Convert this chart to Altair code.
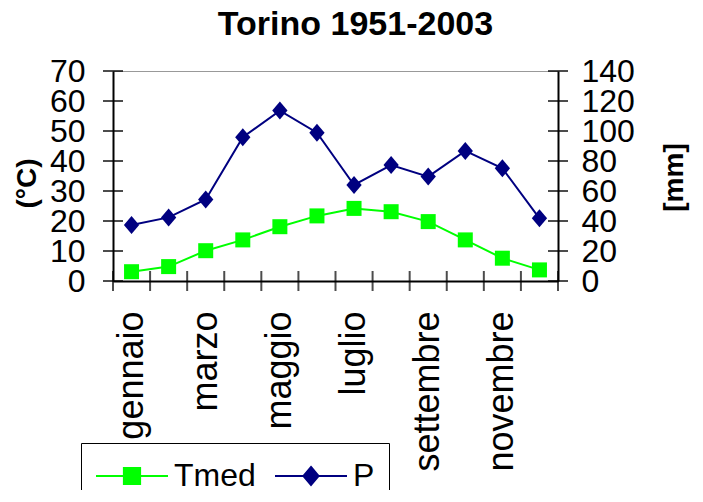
import altair as alt
import pandas as pd

months = ["gennaio", "febbraio", "marzo", "aprile", "maggio", "giugno",
          "luglio", "agosto", "settembre", "ottobre", "novembre", "dicembre"]
label_months = ["gennaio", "marzo", "maggio", "luglio", "settembre", "novembre"]
tmed = [3.1, 4.8, 10.1, 13.7, 18.1, 21.7, 24.2, 23.1, 19.8, 13.7, 7.6, 3.7]
prec = [37.3, 42.4, 54.4, 95.8, 113.6, 98.9, 64.0, 77.3, 69.6, 86.7, 75.1, 41.8]
left_ticks = [0, 10, 20, 30, 40, 50, 60, 70]
right_ticks = [0, 20, 40, 60, 80, 100, 120, 140]
series = ["Tmed", "P"]
colors = ["#00ff00", "#000080"]

FONT = "Liberation Sans, Arial, sans-serif"
W, H = 445, 210

df = pd.DataFrame({"month": months, "Tmed": tmed, "P": prec})
lt = pd.DataFrame({"v": left_ticks})
rt = pd.DataFrame({"v": right_ticks})
mt = pd.DataFrame({"month": months})
mt_last = pd.DataFrame({"month": months[-1:]})
leg = pd.DataFrame({"series": series})

xscale = alt.Scale(domain=months, paddingInner=0, paddingOuter=0)
xaxis = alt.Axis(values=label_months, labelAngle=270, labelFontSize=36,
                 labelPadding=30, title=None, tickSize=0, labelOverlap=False)
X = alt.X("month:N", sort=months, scale=xscale, axis=xaxis)

lscale = alt.Scale(domain=[0, 70], nice=False, zero=True)
laxis = alt.Axis(values=left_ticks, title="(°C)", titleFontSize=28, titleFontWeight="bold",
                 titleAngle=270, titleX=-86, titleY=112, titleAlign="center",
                 titleBaseline="middle", labelFontSize=32, labelPadding=28, tickSize=0,
                 labelOverlap=False)
rscale = alt.Scale(domain=[0, 140], nice=False, zero=True)
raxis = alt.Axis(values=right_ticks, orient="right", title="[mm]", titleFontSize=28,
                 titleFontWeight="bold", titleAngle=270, titleX=116, titleY=106,
                 titleAlign="center", titleBaseline="middle", labelFontSize=32,
                 labelPadding=23, tickSize=0, labelOverlap=False)

# left (temperature) group
tline = alt.Chart(df).mark_line(color=colors[0], strokeWidth=2).encode(
    x=X, y=alt.Y("Tmed:Q", scale=lscale, axis=laxis))
tpts = alt.Chart(df).mark_point(shape="square", filled=True, size=225, opacity=1,
                                color=colors[0]).encode(
    x=X, y=alt.Y("Tmed:Q", scale=lscale, axis=laxis))
lticks = alt.Chart(lt).mark_tick(orient="horizontal", size=20, thickness=2, color="black").encode(
    x=alt.value(0), y=alt.Y("v:Q", scale=lscale, axis=laxis))
xticks = alt.Chart(mt).mark_tick(orient="vertical", size=20, thickness=2, color="black").encode(
    x=alt.X("month:N", sort=months, scale=xscale, axis=xaxis, bandPosition=0),
    y=alt.value(H))
xticks_end = alt.Chart(mt_last).mark_tick(orient="vertical", size=20, thickness=2, color="black").encode(
    x=alt.X("month:N", sort=months, scale=xscale, axis=xaxis, bandPosition=1),
    y=alt.value(H))

paths = ["M-2,0H2M-0.45,-0.45H0.45V0.45H-0.45Z",
         "M-2,0H2M0,-0.5L0.42,0L0,0.5L-0.42,0Z"]
legend = alt.Legend(title=None, orient="none", legendX=-32, legendY=372,
                    direction="horizontal", strokeColor="black", padding=14,
                    symbolSize=1296, symbolStrokeWidth=2, symbolOffset=18,
                    symbolOpacity=1, labelOffset=23, columnPadding=15, labelFontSize=32,
                    labelFont=FONT, labelColor="black")
legend_layer = alt.Chart(leg).mark_point(filled=True, opacity=1).encode(
    fill=alt.Fill("series:N", scale=alt.Scale(domain=series, range=colors), legend=legend),
    stroke=alt.Stroke("series:N", scale=alt.Scale(domain=series, range=colors), legend=legend),
    shape=alt.Shape("series:N", scale=alt.Scale(domain=series, range=paths), legend=legend),
).transform_filter("false")

left = alt.layer(tline, lticks, xticks, xticks_end, tpts, legend_layer)

# right (precipitation) group
pline = alt.Chart(df).mark_line(color=colors[1], strokeWidth=2).encode(
    x=X, y=alt.Y("P:Q", scale=rscale, axis=raxis))
ppts = alt.Chart(df).mark_point(shape="M0,-1L0.85,0L0,1L-0.85,0Z", filled=True, size=324,
                                opacity=1, color=colors[1]).encode(
    x=X, y=alt.Y("P:Q", scale=rscale, axis=raxis))
rticks = alt.Chart(rt).mark_tick(orient="horizontal", size=20, thickness=2, color="black").encode(
    x=alt.value(W), y=alt.Y("v:Q", scale=rscale, axis=raxis))
right = alt.layer(pline, rticks, ppts)

chart = alt.layer(left, right).resolve_scale(y="independent").properties(
    width=W, height=H,
    autosize="none",
    padding={"left": 105, "top": 63, "right": 137, "bottom": 209},
    title=alt.TitleParams("Torino 1951-2003", font=FONT, fontSize=34, fontWeight="bold",
                          anchor="middle", frame="group", dx=20, dy=34, offset=20,
                          baseline="alphabetic", color="black"),
).configure(font=FONT).configure_view(
    stroke="#999999", strokeWidth=1
).configure_axis(
    domainColor="black", domainWidth=2, grid=False, ticks=False,
    labelColor="black", titleColor="black", labelFont=FONT, titleFont=FONT
)

chart.save("out.html", embed_options={"renderer": "svg", "actions": False})
